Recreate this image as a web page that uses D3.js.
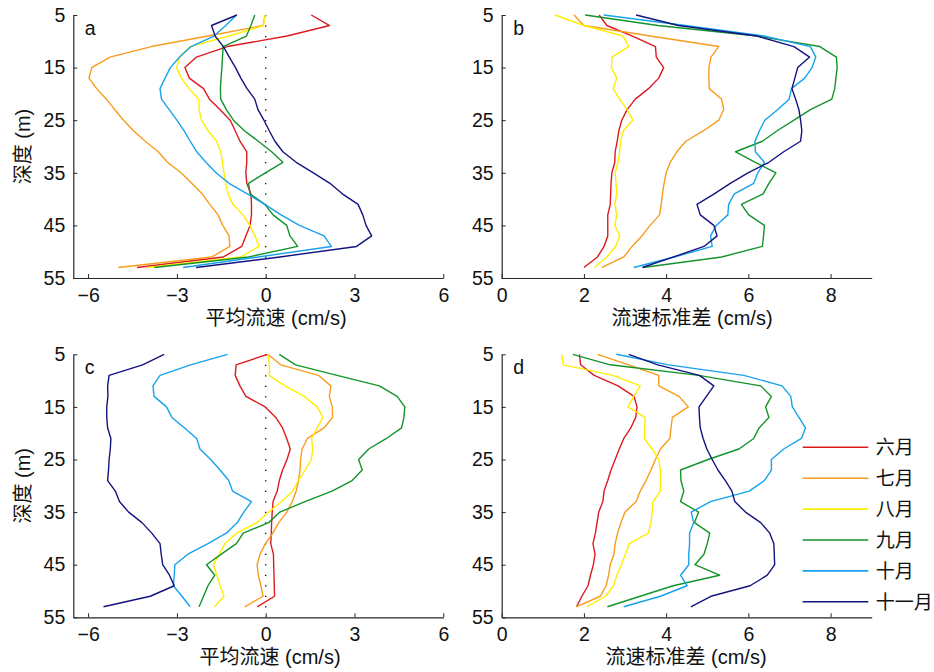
<!DOCTYPE html>
<html>
<head>
<meta charset="utf-8">
<script src="https://cdn.jsdelivr.net/npm/d3@7"></script>
<style>
  body { margin: 0; background: #fff; }
  svg { display: block; }
  text { font-family: "Liberation Sans", Arial, "Noto Sans CJK SC", sans-serif; fill: #111; }
</style>
</head>
<body>
<svg id="chart" width="934" height="672"></svg>
<script>
// depth (m), sampled every 2 m
const depths = [5, 7, 9, 11, 13, 15, 17, 19, 21, 23, 25, 27, 29, 31, 33, 35, 37, 39, 41, 43, 45, 47, 49, 51, 53];

const months = ['六月', '七月', '八月', '九月', '十月', '十一月'];
const colors = ['#dd1a1f', '#f89c1c', '#ffee00', '#13942b', '#17a2ec', '#131380'];

// panel a: mean current speed (cm/s)
const a6 = [1.54, 2.16, 0.72, -1.3, -2.34, -2.73, -2.58, -2.1, -1.9, -1.54, -1.2, -1.03, -0.87, -0.64, -0.64, -0.67, -0.64, -0.5, -0.48, -0.48, -0.53, -0.67, -0.81, -1.43, -4.35];
const a7 = [-0.02, -0.09, -1.95, -3.86, -5.26, -5.88, -5.97, -5.71, -5.38, -5.1, -4.8, -4.47, -4.07, -3.63, -3.32, -2.86, -2.5, -2.15, -1.89, -1.61, -1.45, -1.24, -1.21, -1.82, -4.98];
const a8 = [-0.02, -0.08, -1.24, -2.56, -2.9, -3.01, -2.85, -2.59, -2.26, -2.25, -2.17, -1.95, -1.66, -1.52, -1.46, -1.41, -1.35, -1.27, -1.11, -0.76, -0.54, -0.36, -0.22, -0.84, -4.0];
const a9 = [-0.37, -0.5, -0.65, -1.44, -1.46, -1.48, -1.51, -1.53, -1.52, -1.33, -1.09, -0.72, -0.25, 0.2, 0.58, -0.01, -0.58, -0.53, -0.03, 0.25, 0.71, 0.82, 1.08, -0.58, -3.76];
const a10 = [-0.99, -1.35, -1.75, -2.52, -2.91, -3.22, -3.4, -3.57, -3.52, -3.26, -3.0, -2.76, -2.55, -2.33, -2.02, -1.68, -1.24, -0.62, -0.03, 0.52, 1.14, 1.97, 2.22, -0.25, -2.79];
const a11 = [-0.97, -1.83, -1.71, -1.43, -1.23, -1.02, -0.84, -0.63, -0.37, -0.26, -0.06, 0.12, 0.31, 0.58, 1.03, 1.61, 2.17, 2.59, 3.12, 3.28, 3.39, 3.58, 3.07, 0.48, -2.35];

// panel b: std of current speed (cm/s)
const b6 = [2.37, 2.56, 3.18, 3.74, 3.76, 3.94, 3.82, 3.57, 3.25, 3.05, 2.92, 2.85, 2.81, 2.76, 2.75, 2.68, 2.66, 2.65, 2.64, 2.58, 2.58, 2.58, 2.49, 2.33, 2.0];
const b7 = [1.76, 2.0, 3.61, 5.28, 5.09, 5.04, 5.04, 5.05, 5.35, 5.4, 5.28, 4.91, 4.48, 4.26, 4.1, 4.0, 3.95, 3.91, 3.88, 3.84, 3.61, 3.41, 3.17, 2.97, 2.44];
const b8 = [1.3, 2.0, 2.95, 3.09, 2.68, 2.67, 2.8, 2.71, 2.87, 3.05, 3.19, 2.96, 2.89, 2.87, 2.83, 2.76, 2.78, 2.8, 2.75, 2.8, 2.75, 2.87, 2.77, 2.56, 2.26];
const b9 = [2.03, 3.8, 6.21, 7.74, 8.14, 8.16, 8.13, 8.1, 8.03, 7.51, 7.11, 6.7, 6.34, 5.69, 6.17, 6.67, 6.5, 6.36, 5.83, 6.01, 6.39, 6.37, 6.34, 5.35, 3.44];
const b10 = [2.48, 4.47, 6.38, 7.51, 7.64, 7.55, 7.37, 7.05, 6.99, 6.71, 6.4, 6.27, 6.16, 6.17, 6.39, 6.23, 6.13, 5.66, 5.52, 5.5, 5.22, 5.08, 5.12, 4.2, 3.21];
const b11 = [3.27, 4.3, 6.21, 7.11, 7.49, 7.2, 7.13, 7.06, 7.15, 7.23, 7.27, 7.3, 7.27, 6.86, 6.5, 5.99, 5.56, 5.17, 4.75, 4.83, 5.16, 5.24, 4.92, 4.18, 3.42];

// panel c: mean current speed (cm/s)
const c6 = [0.06, -1.0, -1.03, -0.87, -0.67, -0.02, 0.34, 0.57, 0.71, 0.83, 0.72, 0.57, 0.46, 0.39, 0.25, 0.22, 0.2, 0.19, 0.17, 0.26, 0.27, 0.28, 0.29, 0.3, -0.29];
const c7 = [0.07, 0.51, 1.78, 2.2, 2.15, 2.25, 2.26, 1.97, 1.41, 1.23, 1.18, 1.16, 1.11, 1.03, 0.9, 0.71, 0.44, 0.24, -0.01, -0.19, -0.29, -0.25, -0.16, -0.09, -0.71];
const c8 = [0.07, 0.13, 0.12, 0.65, 1.3, 1.74, 1.93, 1.74, 1.55, 1.59, 1.54, 1.33, 1.1, 0.91, 0.54, 0.1, -0.3, -0.98, -1.38, -1.56, -1.77, -1.65, -1.54, -1.41, -1.73];
const c9 = [0.46, 1.01, 2.41, 3.84, 4.44, 4.7, 4.67, 4.59, 4.08, 3.48, 3.14, 3.26, 2.92, 2.24, 1.33, 0.48, 0.1, -0.76, -0.99, -1.5, -2.0, -1.72, -1.95, -2.1, -2.25];
const c10 = [-1.29, -2.54, -3.57, -3.81, -3.77, -3.35, -3.17, -2.74, -2.33, -2.22, -1.86, -1.54, -1.25, -1.12, -0.48, -0.74, -0.96, -1.33, -1.95, -2.63, -3.07, -3.09, -3.12, -2.83, -2.55];
const c11 = [-3.43, -4.16, -5.29, -5.34, -5.33, -5.37, -5.37, -5.34, -5.23, -5.25, -5.29, -5.31, -5.34, -5.08, -4.94, -4.63, -4.18, -3.85, -3.57, -3.53, -3.48, -3.25, -3.09, -3.9, -5.48];

// panel d: std of current speed (cm/s)
const d6 = [1.89, 1.92, 2.25, 2.83, 3.22, 3.29, 3.26, 3.14, 2.97, 2.86, 2.76, 2.66, 2.58, 2.49, 2.46, 2.36, 2.32, 2.28, 2.22, 2.27, 2.23, 2.16, 2.1, 1.95, 1.82];
const d7 = [2.33, 3.09, 3.82, 3.82, 4.31, 4.54, 4.15, 4.12, 4.09, 3.86, 3.74, 3.63, 3.51, 3.37, 3.27, 3.0, 2.9, 2.82, 2.76, 2.73, 2.64, 2.6, 2.54, 2.4, 1.81];
const d8 = [1.46, 1.5, 2.71, 3.37, 3.21, 3.07, 3.49, 3.48, 3.47, 3.66, 3.82, 3.86, 3.86, 3.86, 3.68, 3.66, 3.63, 3.57, 3.1, 3.01, 2.91, 2.8, 2.72, 2.53, 2.07];
const d9 = [1.73, 2.64, 4.79, 6.3, 6.56, 6.42, 6.5, 6.26, 6.13, 5.77, 5.02, 4.35, 4.36, 4.43, 4.35, 4.79, 4.69, 5.06, 5.0, 4.92, 4.7, 5.3, 4.17, 3.37, 2.57];
const d10 = [2.79, 4.06, 5.89, 6.82, 7.03, 7.07, 7.23, 7.39, 7.29, 6.86, 6.56, 6.56, 6.39, 6.02, 5.08, 4.61, 4.67, 4.57, 4.57, 4.55, 4.55, 4.35, 4.51, 3.86, 2.97];
const d11 = [3.09, 3.8, 4.81, 5.16, 4.98, 4.8, 4.81, 4.83, 4.9, 4.99, 5.12, 5.26, 5.44, 5.6, 5.67, 5.93, 6.3, 6.52, 6.62, 6.63, 6.64, 6.46, 6.04, 5.09, 4.6];

const depthTicks = [5, 15, 25, 35, 45, 55];
const meanTicks = [-6, -3, 0, 3, 6];
const stdTicks = [0, 2, 4, 6, 8];

const svg = d3.select('#chart');
const W = 370, H = 263;

const panels = [
  { tag: 'a', left: 73.3, top: 15, domain: [-6.5, 6], ticks: meanTicks, series: [a6, a7, a8, a9, a10, a11],
    xLabel: '平均流速 (cm/s)', labelX: 276, zero: true, yLabel: true },
  { tag: 'b', left: 501.7, top: 15, domain: [0, 9], ticks: stdTicks, series: [b6, b7, b8, b9, b10, b11],
    xLabel: '流速标准差 (cm/s)', labelX: 692 },
  { tag: 'c', left: 73.3, top: 354.3, domain: [-6.5, 6], ticks: meanTicks, series: [c6, c7, c8, c9, c10, c11],
    xLabel: '平均流速 (cm/s)', labelX: 270, zero: true, yLabel: true },
  { tag: 'd', left: 501.7, top: 354.3, domain: [0, 9], ticks: stdTicks, series: [d6, d7, d8, d9, d10, d11],
    xLabel: '流速标准差 (cm/s)', labelX: 686, legend: true },
];

panels.forEach((p) => {
  const x = d3.scaleLinear().domain(p.domain).range([p.left, p.left + W]);
  const y = d3.scaleLinear().domain([5, 55]).range([p.top, p.top + H]);
  const g = svg.append('g');

  // zero line
  if (p.zero) {
    g.append('line')
      .attr('x1', x(0)).attr('x2', x(0))
      .attr('y1', y(5)).attr('y2', y(55))
      .attr('stroke', '#000')
      .attr('stroke-width', 1.3)
      .attr('stroke-dasharray', '1.3,9.2');
  }

  const line = d3.line()
    .x((d) => x(d[1]))
    .y((d) => y(d[0]));

  p.series.forEach((vals, i) => {
    g.append('path')
      .datum(depths.map((dep, k) => [dep, vals[k]]))
      .attr('d', line)
      .attr('fill', 'none')
      .attr('stroke', colors[i])
      .attr('stroke-width', 1.4)
      .attr('stroke-linejoin', 'round');
  });

  // axes, ticks pointing inward
  const xAxis = g.append('g')
    .attr('transform', `translate(0,${p.top + H})`)
    .call(d3.axisBottom(x).tickValues(p.ticks).tickSize(-4).tickSizeOuter(0).tickPadding(10));
  const yAxis = g.append('g')
    .attr('transform', `translate(${p.left},0)`)
    .call(d3.axisLeft(y).tickValues(depthTicks).tickSize(-4).tickSizeOuter(0).tickPadding(8));

  [xAxis, yAxis].forEach((ax) => {
    ax.select('.domain').attr('stroke', '#262626').attr('stroke-width', 1.2);
    ax.selectAll('.tick line').attr('stroke', '#262626').attr('stroke-width', 1);
    ax.selectAll('.tick text').attr('font-size', 19.5).attr('fill', '#111')
      .style('font-family', '"Liberation Sans", Arial, sans-serif');
  });

  // panel letter
  g.append('text')
    .attr('x', p.left + 11.5)
    .attr('y', p.top + 20)
    .attr('font-size', 19.5)
    .text(p.tag);

  g.append('text')
    .attr('x', p.labelX)
    .attr('y', p.top + H + 46.5)
    .attr('text-anchor', 'middle')
    .attr('font-size', 20)
    .attr('fill', '#222')
    .text(p.xLabel);

  if (p.yLabel) {
    g.append('text')
      .attr('transform', `translate(30,${p.top + H / 2}) rotate(-90)`)
      .attr('text-anchor', 'middle')
      .attr('font-size', 20)
      .attr('fill', '#222')
      .text('深度 (m)');
  }

  if (p.legend) {
    const lg = g.append('g').attr('transform', 'translate(802.7,447.3)');
    months.forEach((m, i) => {
      const row = lg.append('g').attr('transform', `translate(0,${i * 30.9})`);
      row.append('line')
        .attr('x1', 0).attr('x2', 65.6)
        .attr('stroke', colors[i])
        .attr('stroke-width', 1.6);
      row.append('text')
        .attr('x', 73)
        .attr('y', 0)
        .attr('dy', '0.36em')
        .attr('font-size', 19)
        .attr('fill', '#222')
        .text(m);
    });
  }
});
</script>
</body>
</html>
